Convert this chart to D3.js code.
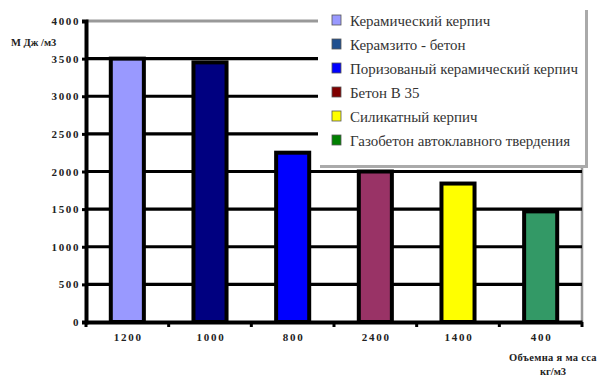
<!DOCTYPE html>
<html><head><meta charset="utf-8"><script src="https://cdn.jsdelivr.net/npm/d3@7"></script></head>
<body style="margin:0">
<svg id="s" width="607" height="376" font-family="Liberation Serif, Times New Roman, serif"></svg>
<script>
// Bulk density of wall materials (kg/m3) and embodied energy (MJ/m3)
const densities = ["1200", "1000", "800", "2400", "1400", "400"];
const energy = [3500, 3450, 2250, 2000, 1840, 1470];
const materials = [
  "Керамический керпич",
  "Керамзито - бетон",
  "Поризованый керамический керпич",
  "Бетон В 35",
  "Силикатный керпич",
  "Газобетон автоклавного твердения"
];
const barColors = ["#9999ff", "#000080", "#0000ff", "#993366", "#ffff00", "#339966"];
const legendColors = ["#9999ff", "#1f4f8f", "#0000ff", "#800000", "#ffff00", "#008000"];
const yTicks = [0, 500, 1000, 1500, 2000, 2500, 3000, 3500, 4000];

const svg = d3.select("#s");
const plot = { left: 86, right: 582, top: 21, bottom: 322 };

// serif text helper, placed directly on the svg root
function label(str, px, py, size, opts = {}) {
  const t = svg.append("text")
    .attr("x", px).attr("y", py).attr("font-size", size)
    .style("font-family", '"Liberation Serif", "Times New Roman", serif');
  if (opts.bold) t.attr("font-weight", "bold");
  if (opts.anchor) t.attr("text-anchor", opts.anchor);
  if (opts.spacing) t.attr("letter-spacing", opts.spacing);
  t.attr("fill", opts.fill || "#222").text(str);
  return t;
}

const x = d3.scaleBand()
  .domain(densities)
  .range([plot.left, plot.right])
  .paddingInner(0.6)
  .paddingOuter(0.3);

const y = d3.scaleLinear()
  .domain([0, 4000])
  .range([plot.bottom, plot.top]);

// plot frame: grey top and right edges
svg.append("line")
  .attr("x1", plot.left).attr("x2", plot.right)
  .attr("y1", y(4000)).attr("y2", y(4000))
  .attr("stroke", "#999").attr("stroke-width", 3);
svg.append("line")
  .attr("x1", plot.right).attr("x2", plot.right)
  .attr("y1", y(4000)).attr("y2", plot.bottom)
  .attr("stroke", "#999").attr("stroke-width", 2.5);

// horizontal gridlines
svg.append("g")
  .selectAll("line")
  .data(yTicks.filter(d => d > 0 && d < 4000))
  .join("line")
  .attr("x1", plot.left).attr("x2", plot.right)
  .attr("y1", d => y(d)).attr("y2", d => y(d))
  .attr("stroke", "#000").attr("stroke-width", 3.2);

// bars
svg.append("g")
  .selectAll("rect")
  .data(densities)
  .join("rect")
  .attr("x", d => x(d))
  .attr("width", x.bandwidth())
  .attr("y", (d, i) => y(energy[i]))
  .attr("height", (d, i) => plot.bottom - y(energy[i]))
  .attr("fill", (d, i) => barColors[i])
  .attr("stroke", "#000")
  .attr("stroke-width", 4);

// y axis: line and ticks from d3, labels in serif
const yAxis = svg.append("g")
  .attr("transform", `translate(${plot.left},0)`)
  .call(d3.axisLeft(y).tickValues(yTicks).tickSize(4).tickFormat(""));
yAxis.select(".domain").attr("stroke", "#000").attr("stroke-width", 4);
yAxis.selectAll(".tick line").attr("stroke", "#000").attr("stroke-width", 3);
yTicks.forEach(v => label(String(v), plot.left - 6, y(v) + 4, 11, { bold: true, anchor: "end", spacing: 1.6 }));

// x axis with ticks at category boundaries
const xAxis = svg.append("g")
  .attr("transform", `translate(0,${plot.bottom})`)
  .call(d3.axisBottom(x).tickSize(0).tickFormat(""));
xAxis.select(".domain").attr("stroke", "#000").attr("stroke-width", 4);
densities.forEach(d => label(d, x(d) + x.bandwidth() / 2 + 1, plot.bottom + 19, 11, { bold: true, anchor: "middle", spacing: 1.8 }));
const step = x.step();
svg.append("g")
  .selectAll("line")
  .data(d3.range(densities.length + 1))
  .join("line")
  .attr("x1", i => plot.left + i * step).attr("x2", i => plot.left + i * step)
  .attr("y1", plot.bottom).attr("y2", plot.bottom + 5)
  .attr("stroke", "#000").attr("stroke-width", 3);

// axis titles
label("М Дж /м3", 11, 46, 10.5, { bold: true });
label("Объемна я ма сса", 553, 361, 10.5, { bold: true, anchor: "middle", spacing: 0.3 });
label("кг/м3", 553, 375, 10.5, { bold: true, anchor: "middle" });

// legend box with grey shadow
svg.append("rect")
  .attr("x", 320).attr("y", 10).attr("width", 268).attr("height", 158)
  .attr("fill", "#aaa");
svg.append("rect")
  .attr("x", 318).attr("y", 8).attr("width", 267).attr("height", 157)
  .attr("fill", "#fff");
svg.selectAll("rect.swatch")
  .data(materials)
  .join("rect")
  .attr("class", "swatch")
  .attr("x", 332).attr("y", (d, i) => 15 + i * 24).attr("width", 9).attr("height", 10)
  .attr("fill", (d, i) => legendColors[i])
  .attr("stroke", "#555").attr("stroke-width", 0.8);
const legendLabels = materials.map((m, i) => label(m, 350, 26 + i * 24, 15, { fill: "#333" }));
// fit the longest entry to the box width
const longest = d3.max(legendLabels, t => t.node().getComputedTextLength());
if (longest > 0) legendLabels.forEach(t => t.attr("font-size", 15 * 228 / longest));
</script>
</body>
</html>
